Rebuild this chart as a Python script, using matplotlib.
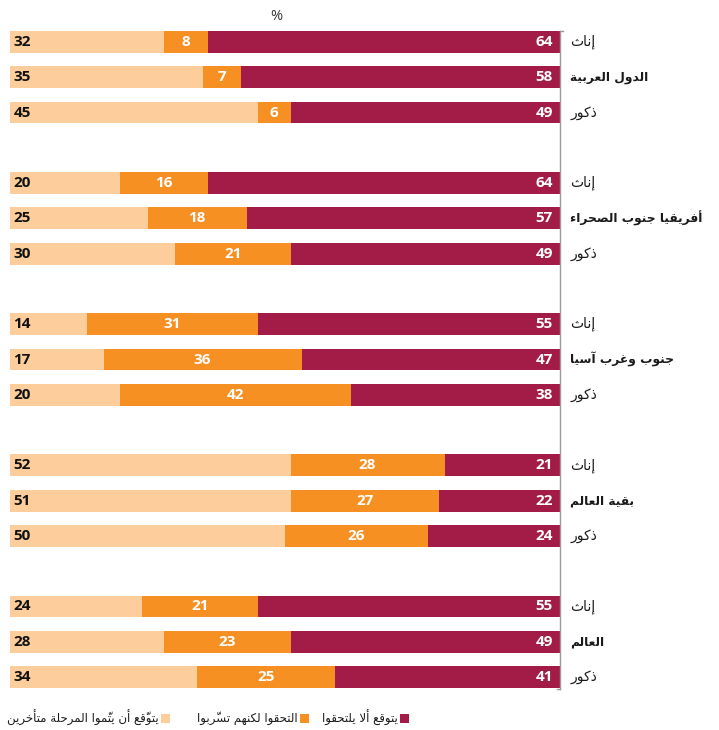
import numpy as np
import matplotlib.pyplot as plt
from matplotlib.patches import Rectangle

# matplotlib has no complex text layout: Arabic letters are swapped for their
# presentation forms and the string is reversed so it reads right to left.
DUAL = {'ئ': 0xFE89, 'ب': 0xFE8F, 'ت': 0xFE95, 'ث': 0xFE99, 'ج': 0xFE9D, 'ح': 0xFEA1,
        'خ': 0xFEA5, 'س': 0xFEB1, 'ش': 0xFEB5, 'ص': 0xFEB9, 'ض': 0xFEBD, 'ط': 0xFEC1,
        'ظ': 0xFEC5, 'ع': 0xFEC9, 'غ': 0xFECD, 'ف': 0xFED1, 'ق': 0xFED5, 'ك': 0xFED9,
        'ل': 0xFEDD, 'م': 0xFEE1, 'ن': 0xFEE5, 'ه': 0xFEE9, 'ي': 0xFEF1}
RIGHT = {'آ': 0xFE81, 'أ': 0xFE83, 'ؤ': 0xFE85, 'إ': 0xFE87, 'ا': 0xFE8D, 'ة': 0xFE93,
         'د': 0xFEA9, 'ذ': 0xFEAB, 'ر': 0xFEAD, 'ز': 0xFEAF, 'و': 0xFEED, 'ى': 0xFEEF}
LAM_ALEF = {'آ': 0xFEF5, 'أ': 0xFEF7, 'إ': 0xFEF9, 'ا': 0xFEFB}
MARKS = set('\u064B\u064C\u064D\u064E\u064F\u0650\u0651\u0652')


def shape(text):
    tokens = []
    for ch in text:
        if ch in MARKS and tokens:
            tokens[-1][1] += ch
        elif ch in LAM_ALEF and tokens and tokens[-1][0] == 'ل' and not tokens[-1][1]:
            tokens[-1][0] = 'ل' + ch
        else:
            tokens.append([ch, ''])

    def is_letter(b):
        return b in DUAL or b in RIGHT or len(b) == 2

    out = []
    for i, (b, m) in enumerate(tokens):
        prev = tokens[i - 1][0] if i > 0 else ''
        nxt = tokens[i + 1][0] if i + 1 < len(tokens) else ''
        p = int(prev in DUAL and is_letter(b))
        n = int(b in DUAL and is_letter(nxt))
        if len(b) == 2:
            c = LAM_ALEF[b[1]] + p
        elif b in DUAL:
            c = DUAL[b] + [[0, 2], [1, 3]][p][n]
        elif b in RIGHT:
            c = RIGHT[b] + p
        else:
            out.append(b + m)
            continue
        out.append(chr(c) + m)
    return ''.join(reversed(out))


groups = ['الدول العربية', 'أفريقيا جنوب الصحراء', 'جنوب وغرب آسيا', 'بقية العالم', 'العالم']
female = 'إناث'
male = 'ذكور'

late = [32, 35, 45, 20, 25, 30, 14, 17, 20, 52, 51, 50, 24, 28, 34]
dropped = [8, 7, 6, 16, 18, 21, 31, 36, 42, 28, 27, 26, 21, 23, 25]
never = [64, 58, 49, 64, 57, 49, 55, 47, 38, 21, 22, 24, 55, 49, 41]

legend_labels = ['يتوقع ألا يلتحقوا', 'التحقوا لكنهم تسرّبوا', 'يتوقّع أن يتمّوا المرحلة متأخرين']

c_never = '#A31C48'
c_drop = '#F69023'
c_late = '#FDCE9C'

W, H = 719, 730
fig = plt.figure(figsize=(W / 100, H / 100), dpi=100)
unit = 35.28
top = 42 - unit / 2
bot = 677 + unit / 2
ax = fig.add_axes([10 / W, 1 - bot / H, 550 / W, (bot - top) / H])

y = np.array([g * 4 + k for g in range(5) for k in range(3)])
never_a = np.array(never)
drop_a = np.array(dropped)
late_a = np.array(late)

h = 0.62
ax.barh(y, never_a, left=0, height=h, color=c_never)
ax.barh(y, drop_a, left=never_a, height=h, color=c_drop)
ax.barh(y, late_a, left=never_a + drop_a, height=h, color=c_late)

ax.set_xlim(100, 0)
ax.set_ylim(18.5, -0.5)
ax.axis('off')

num = dict(family='Open Sans', fontweight='bold', fontsize=11)

for i, yy in enumerate(y):
    ax.annotate(str(never[i]), (0, yy), xytext=(-5, 0), textcoords='offset points',
                ha='right', va='center', color='white', **num)
    ax.text(never[i] + dropped[i] / 2, yy, str(dropped[i]), ha='center', va='center',
            color='white', **num)
    ax.annotate(str(late[i]), (100, yy), xytext=(2.5, 0), textcoords='offset points',
                ha='left', va='center', color='#111111', **num)
    k = i % 3
    if k == 1:
        lab, wt, fs = groups[i // 3], 'bold', 8.8
    else:
        lab, wt, fs = (female if k == 0 else male), 'normal', 10
    ax.annotate(shape(lab), (0, yy), xytext=(7.5, 0), textcoords='offset points',
                ha='left', va='center', color='#1a1a1a', fontweight=wt,
                family='DejaVu Sans', fontsize=fs, annotation_clip=False)

# vertical axis line at the right edge of the bars, with its small end ticks
ax.plot([0, 0], [-0.31, 18.34], color='#9a9a9a', lw=1, clip_on=False)
ax.plot([0, -0.6], [-0.31, -0.31], color='#9a9a9a', lw=1, clip_on=False)
ax.plot([0, 0.6], [18.34, 18.34], color='#9a9a9a', lw=1, clip_on=False)
ax.text(51.5, -0.72, '%', ha='center', va='center', color='#333333',
        family='Open Sans', fontsize=10.5)

# legend, drawn right to left
sq = 9
items = [(c_never, 400), (c_drop, 300), (c_late, 161)]
for (col, x0), lab in zip(items, legend_labels):
    fig.add_artist(Rectangle((x0 / W, 1 - (718 + sq / 2) / H), sq / W, sq / H,
                             transform=fig.transFigure, color=col, lw=0))
    fig.text((x0 - 2) / W, 1 - 718 / H, shape(lab), ha='right', va='center',
             color='#1a1a1a', family='DejaVu Sans', fontsize=8.5)

fig.savefig('out.png', dpi=100)
